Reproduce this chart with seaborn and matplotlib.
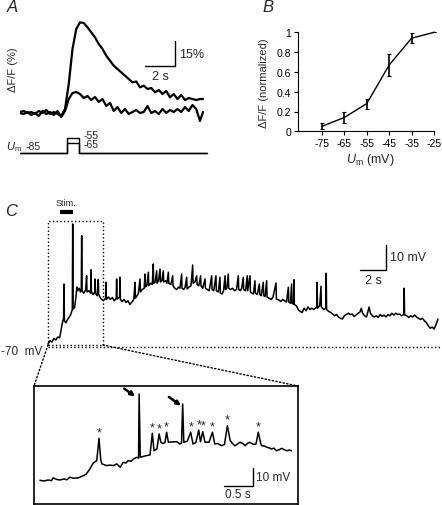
import matplotlib.pyplot as plt
import seaborn as sns
from matplotlib.patches import Rectangle, ConnectionPatch
from matplotlib.ticker import FormatStrFormatter

sns.set_style("white")
plt.rcParams['font.family'] = ['Liberation Sans', 'DejaVu Sans']
plt.rcParams['mathtext.fontset'] = 'custom'
plt.rcParams['mathtext.rm'] = 'Liberation Sans'
plt.rcParams['mathtext.it'] = 'Liberation Sans:italic'
plt.rcParams['axes.unicode_minus'] = False

# ---- panel A: fluorescence traces (%) ----
a_time = [0, 0.25, 0.5, 0.75, 1.0, 1.25, 1.5, 1.75, 2.0, 2.25, 2.5, 2.75, 3.0,
          3.25, 3.5, 3.75, 4.0, 4.25, 4.5, 4.75, 5.0, 5.25, 5.5, 5.75, 6.0,
          6.25, 6.5, 6.75, 7.0, 7.25, 7.5, 7.75, 8.0, 8.25, 8.5, 8.75, 9.0,
          9.25, 9.5, 9.75, 10.0, 10.25, 10.5, 10.75, 11.0, 11.25, 11.5, 11.75,
          12.0, 12.2]
a_high = [1.2, 1.8, 0.6, 1.2, 0.0, 1.8, 0.6, 2.4, 0.0, 1.2, 0.0, -1.2, 3.0,
          18, 39, 51, 55, 54.6, 52, 49, 46, 42, 39, 35, 32,
          29, 27, 25, 23, 21, 19, 19.5, 16, 17, 15, 15.6, 13,
          14.4, 12, 13.8, 10, 12, 9, 11.4, 8.4, 9.6, 9, 8.4,
          9, 9]
a_low = [0.6, 0.0, 1.2, -0.6, 0.6, -1.2, 1.8, 0.0, 1.2, -0.6, 1.8, -1.8, 1.8,
         9, 12.6, 13.2, 12, 9.6, 10.8, 8.4, 10.2, 7.2, 9, 4.8, 6.6,
         1.8, 4.2, 0.6, 3, 0, 1.2, 2.4, 0.6, 1.2, 4.8, 0.6, 1.8,
         0, 3, 0.6, 2.4, 1.2, 3, 1.2, 4.2, 1.8, 5.4, 3,
         -4.2, 1.2]
stim_t = [0, 3.13, 3.13, 3.93, 3.93, 12.47]
stim_55 = [-85, -85, -55, -55, -85, -85]
stim_65 = [-85, -85, -65, -65, -85, -85]

# ---- panel B: normalized dF/F vs Um ----
b_um = [-75, -65, -55, -45, -35, -25]
b_norm = [0.05, 0.14, 0.28, 0.67, 0.94, 1.0]
b_err = [0.03, 0.06, 0.05, 0.11, 0.05, 0.0]

# ---- panel C: membrane potential (mV) ----
c_t = [0.00, 0.15, 0.30, 0.45, 0.60, 0.75, 0.90, 1.00, 1.10, 1.20, 1.23, 1.26,
       1.38, 1.50, 1.62, 1.75, 1.87, 1.90, 1.93, 2.05, 2.15, 2.22, 2.30, 2.40,
       2.50, 2.56, 2.59, 2.62, 2.75, 2.90, 2.97, 3.00, 3.15, 3.28, 3.31, 3.34,
       3.48, 3.60, 3.62, 3.65, 3.78, 3.87, 3.90, 4.05, 4.25, 4.43, 4.46, 4.49,
       4.65, 4.80, 4.95, 5.10, 5.25, 5.28, 5.31, 5.51, 5.54, 5.57, 5.70, 5.85,
       6.00, 6.15, 6.30, 6.45, 6.60, 6.69, 6.72, 6.85, 6.95, 7.08, 7.11, 7.25,
       7.40, 7.46, 7.49, 7.60, 7.72, 7.75, 7.90, 8.02, 8.10, 8.13, 8.25, 8.36,
       8.39, 8.50, 8.62, 8.65, 8.76, 8.87, 8.90, 9.05, 9.15, 9.26, 9.29, 9.45,
       9.59, 9.62, 9.75, 9.90, 10.05, 10.15, 10.28, 10.31, 10.45, 10.55, 10.67,
       10.70, 10.85, 11.00, 11.13, 11.16, 11.30, 11.44, 11.47, 11.60, 11.74,
       11.77, 11.90, 12.08, 12.11, 12.25, 12.40, 12.59, 12.62, 12.75, 12.92,
       12.95, 13.10, 13.23, 13.26, 13.40, 13.50, 13.62, 13.65, 13.75, 13.87,
       13.90, 14.05, 14.20, 14.35, 14.50, 14.64, 14.67, 14.80, 14.90, 15.02,
       15.05, 15.20, 15.33, 15.36, 15.54, 15.57, 15.70, 15.80, 15.92, 15.95,
       16.10, 16.26, 16.29, 16.40, 16.56, 16.59, 16.70, 16.82, 16.85, 17.00,
       17.15, 17.30, 17.54, 17.57, 17.75, 17.90, 18.05, 18.20, 18.35, 18.49,
       18.52, 18.65, 18.74, 18.77, 18.89, 18.92, 18.95, 19.10, 19.25, 19.40,
       19.55, 19.70, 19.85, 20.00, 20.15, 20.30, 20.45, 20.67, 20.70, 20.73,
       20.90, 21.00, 21.03, 21.20, 21.37, 21.40, 21.43, 21.60, 21.75, 21.90,
       22.05, 22.20, 22.35, 22.50, 22.65, 22.80, 22.95, 23.10, 23.25, 23.40,
       23.55, 23.70, 23.85, 24.00, 24.10, 24.20, 24.35, 24.50, 24.60, 24.70,
       24.80, 24.95, 25.10, 25.25, 25.40, 25.55, 25.70, 25.85, 26.00, 26.15,
       26.30, 26.45, 26.60, 26.75, 26.90, 27.05, 27.20, 27.37, 27.40, 27.43,
       27.60, 27.75, 27.90, 28.05, 28.20, 28.35, 28.50, 28.65, 28.80, 28.95,
       29.10, 29.25, 29.40, 29.55, 29.70, 29.85, 30.00]
c_v = [-68.8, -67.5, -68.0, -66.6, -67.2, -66.0, -66.3, -63.5, -60.5, -58.5, -44.8, -59.5,
       -60.3, -59.0, -58.2, -57.0, -55.0, -20.8, -54.8, -54.2, -50.0, -46.0, -47.5, -46.5,
       -48.0, -47.0, -25.5, -47.5, -48.5, -47.0, -41.5, -48.0, -47.5, -48.5, -39.1, -48.0,
       -49.0, -48.0, -42.8, -48.5, -49.5, -43.0, -49.0, -50.5, -51.5, -50.5, -44.1, -51.0,
       -50.0, -51.0, -50.2, -51.5, -50.5, -42.8, -50.8, -50.0, -42.1, -51.0, -51.8, -51.0,
       -52.2, -51.5, -53.0, -52.0, -51.0, -44.1, -50.5, -49.5, -48.5, -42.8, -48.0, -47.0,
       -46.5, -40.8, -46.0, -45.5, -40.1, -45.5, -44.5, -45.0, -36.8, -44.5, -44.0, -39.5,
       -44.5, -43.5, -38.8, -44.0, -43.5, -39.5, -44.0, -43.5, -44.5, -40.1, -44.5, -45.0,
       -41.5, -45.5, -46.5, -47.0, -46.0, -46.5, -40.8, -46.5, -47.0, -46.0, -42.1,
       -46.8, -46.0, -45.5, -37.2, -44.5, -44.0, -41.5, -45.0, -45.5, -41.5,
       -45.5, -46.5, -42.8, -46.5, -47.0, -47.5, -41.5, -47.0, -47.5, -41.5,
       -47.5, -48.0, -42.1, -48.5, -48.8, -47.5, -41.5, -47.0, -46.5, -40.8,
       -46.5, -47.0, -46.5, -47.5, -47.0, -41.5, -47.0, -47.5, -46.5, -42.1,
       -47.0, -47.5, -41.5, -47.5, -41.5, -48.0, -48.5, -48.8, -43.5, -48.5,
       -49.0, -44.8, -49.0, -49.5, -44.1, -49.5, -49.8, -43.5, -50.0, -50.5,
       -51.0, -50.2, -44.4, -50.8, -51.2, -51.8, -51.0, -51.5, -52.0, -46.1,
       -52.0, -52.5, -44.8, -52.5, -52.8, -43.1, -53.0, -53.5, -55.0, -55.8,
       -56.2, -54.5, -55.5, -54.0, -55.0, -54.5, -55.0, -54.0, -44.1, -54.5,
       -53.5, -45.7, -54.0, -55.0, -54.5, -40.5, -55.0, -55.8, -56.2, -56.8,
       -57.5, -57.0, -58.0, -58.5, -58.8, -57.5, -57.0, -56.5, -57.0, -56.8,
       -57.8, -57.2, -56.5, -56.0, -54.5, -56.5, -57.5, -58.0, -56.0, -54.0,
       -56.5, -57.5, -58.0, -57.5, -58.2, -57.0, -57.8, -57.2, -58.0, -57.0,
       -57.5, -56.5, -57.2, -56.5, -57.0, -56.8, -57.5, -57.0, -46.5, -57.2,
       -57.5, -58.2, -57.5, -58.0, -57.2, -58.0, -58.5, -59.0, -58.5, -59.5,
       -60.2, -61.5, -62.5, -62.0, -62.8, -61.0, -58.8]

# ---- inset: first ~4.4 s expanded ----
i_t = [0.00, 0.07, 0.14, 0.20, 0.23, 0.30, 0.35, 0.42, 0.47, 0.52, 0.58, 0.67,
       0.72, 0.76, 0.81, 0.87, 0.93, 0.99, 1.03, 1.06, 1.08, 1.16, 1.22, 1.28,
       1.34, 1.40, 1.45, 1.50, 1.54, 1.59, 1.63, 1.69, 1.72, 1.73, 1.75, 1.80,
       1.86, 1.92, 1.96, 1.99, 2.04, 2.08, 2.11, 2.15, 2.18, 2.21, 2.24, 2.30,
       2.39, 2.44, 2.47, 2.49, 2.51, 2.57, 2.63, 2.67, 2.72, 2.77, 2.80, 2.84,
       2.88, 2.95, 3.01, 3.05, 3.10, 3.17, 3.22, 3.27, 3.32, 3.36, 3.40, 3.45,
       3.49, 3.54, 3.58, 3.62, 3.66, 3.72, 3.77, 3.81, 3.85, 3.87, 3.92, 3.96,
       4.00, 4.04, 4.08, 4.13, 4.18, 4.22, 4.27, 4.31, 4.35, 4.39]
i_v = [-67.8, -68.2, -67.6, -68.0, -66.4, -67.4, -67.6, -67.0, -67.5, -66.0, -66.6, -66.4,
       -65.6, -65.1, -64.1, -61.2, -57.8, -56.4, -43.5, -56.0, -58.3, -59.3, -59.0, -59.3,
       -58.3, -60.3, -57.4, -57.8, -56.4, -56.8, -55.5, -54.5, -55.0, -17.9, -54.5, -54.0,
       -53.5, -53.1, -40.6, -50.7, -49.7, -41.0, -45.8, -46.5, -46.0, -40.0, -45.8, -45.6,
       -45.5, -46.8, -46.2, -23.7, -45.8, -45.2, -40.0, -46.8, -46.0, -38.7, -45.5, -39.7,
       -45.8, -45.8, -40.0, -46.8, -46.5, -47.8, -47.0, -36.2, -44.9, -46.5, -47.8, -46.8,
       -45.8, -46.5, -47.8, -46.5, -45.8, -47.0, -46.8, -40.0, -46.2, -47.8, -48.0, -48.7,
       -49.0, -49.7, -49.2, -50.7, -50.0, -49.3, -50.2, -50.7, -50.3, -50.7]
star_t = [1.03, 1.96, 2.08, 2.21, 2.63, 2.77, 2.84, 3.01, 3.27, 3.81]
star_v = [-43.5, -40.6, -41.0, -40.0, -40.0, -38.7, -39.7, -40.0, -36.2, -40.0]

W, H = 442, 506
fig = plt.figure(figsize=(W / 100, H / 100), dpi=100)


def px_axes(x0, y0, x1, y1):
    return fig.add_axes([x0 / W, 1 - y1 / H, (x1 - x0) / W, (y1 - y0) / H])


# ===== A =====
axA = px_axes(20, 15, 210, 128)
sns.lineplot(x=a_time, y=a_high, ax=axA, color='black', lw=1.6, estimator=None, sort=False)
sns.lineplot(x=a_time, y=a_low, ax=axA, color='black', lw=1.6, estimator=None, sort=False)
axA.set_xlim(0, 12.667)
axA.set_ylim(-7.8, 60)
axA.set_axis_off()
axA.plot([8.33, 10.33, 10.33], [28.8, 28.8, 43.8], color='black', lw=1)
axA.text(10.6, 36.3, '15%', fontsize=9, ha='left', va='center')
axA.text(9.33, 26.3, '2 s', fontsize=9, ha='center', va='top')
axA.text(-0.47, 27, 'ΔF/F (%)', fontsize=8, rotation=90, ha='center', va='center', clip_on=False)

axS = px_axes(20, 130, 210, 160)
sns.lineplot(x=stim_t, y=stim_55, ax=axS, color='black', lw=1, estimator=None, sort=False)
sns.lineplot(x=stim_t, y=stim_65, ax=axS, color='black', lw=1, estimator=None, sort=False)
axS.set_xlim(0, 12.667)
axS.set_ylim(-97, -37)
axS.set_axis_off()
axS.text(-0.95, -71, r'$U_{\rm m}$', fontsize=8, ha='left', va='center', clip_on=False)
axS.text(0.4, -71, '-85', fontsize=7.5, ha='left', va='center')
axS.text(4.25, -50, '-55', fontsize=7.5, ha='left', va='center')
axS.text(4.25, -68, '-65', fontsize=7.5, ha='left', va='center')

# ===== B =====
axB = px_axes(298, 33.3, 434, 132.3)
sns.lineplot(x=b_um, y=b_norm, ax=axB, color='black', lw=1, estimator=None)
axB.errorbar(b_um, b_norm, yerr=b_err, fmt='none', ecolor='black', elinewidth=1.2,
             capsize=1.5, capthick=0.8, clip_on=False)
for ln in axB.lines:
    ln.set_clip_on(False)
axB.set_xlim(-85.7, -25)
axB.set_ylim(0, 1)
axB.set_xticks(b_um)
axB.set_yticks([0, 0.2, 0.4, 0.6, 0.8, 1.0])
axB.yaxis.set_major_formatter(FormatStrFormatter('%g'))
sns.despine(ax=axB)
for s in ['left', 'bottom']:
    axB.spines[s].set_linewidth(0.8)
    axB.spines[s].set_color('black')
axB.tick_params(direction='out', length=3, width=0.8, labelsize=7.5, pad=2,
                bottom=True, left=True, colors='black')
axB.set_ylabel('ΔF/F (normalized)', fontsize=8)
axB.yaxis.set_label_coords(-0.215, 0.5)
axB.set_xlabel(r'$U_{\rm m}$ (mV)', fontsize=9)
axB.xaxis.set_label_coords(0.53, -0.2)

# ===== C =====
axC = px_axes(0, 195, 442, 355)
sns.lineplot(x=c_t, y=c_v, ax=axC, color='black', lw=1.1, estimator=None, sort=False)
axC.set_xlim(-3.692, 30.308)
axC.set_ylim(-72.8, -8.8)
axC.set_axis_off()
axC.hlines(-70, 0, 30.3, colors='black', linestyles=':', lw=1)
axC.add_patch(Rectangle((0, -69.2), 4.23, 49.6, fill=False, ls=':', lw=1, ec='black'))
axC.plot([0.92, 1.92], [-16, -16], color='black', lw=3, solid_capstyle='butt')
axC.text(1.38, -12, 'Stim.', fontsize=6.5, ha='center', va='center')
axC.plot([24, 26, 26], [-39, -39, -29], color='black', lw=1)
axC.text(26.3, -34, '10 mV', fontsize=9, ha='left', va='center')
axC.text(25, -41, '2 s', fontsize=9, ha='center', va='top')
axC.text(-3.62, -71.6, '-70  mV', fontsize=8.5, ha='left', va='center')

# inset
axI = px_axes(34, 387, 298, 505)
sns.lineplot(x=i_t, y=i_v, ax=axI, color='black', lw=1.1, estimator=None, sort=False)
axI.set_xlim(-0.105, 4.503)
axI.set_ylim(-81.5, -13.26)
axI.set_xticks([])
axI.set_yticks([])
for s in axI.spines.values():
    s.set_visible(True)
    s.set_linewidth(1.2)
    s.set_color('black')
for t, v in zip(star_t, star_v):
    axI.text(t, v, '*', fontsize=9, ha='center', va='bottom')
for tip, tail in [((1.66, -19.2), (1.47, -14.8)), ((2.46, -24.6), (2.25, -19.6))]:
    axI.annotate('', xy=tip, xytext=tail,
                 arrowprops=dict(arrowstyle='-|>', lw=1.8, color='black',
                                 mutation_scale=6, shrinkA=0, shrinkB=0))
axI.plot([3.21, 3.71, 3.71], [-70.9, -70.9, -60.9], color='black', lw=1)
axI.text(3.77, -65.9, '10 mV', fontsize=8.5, ha='left', va='center')
axI.text(3.46, -72.2, '0.5 s', fontsize=8.5, ha='center', va='top')

for xyA, xyB in [((0, -69.2), (0, 1)), ((4.23, -69.2), (1, 1))]:
    con = ConnectionPatch(xyA=xyA, coordsA=axC.transData, xyB=xyB, coordsB=axI.transAxes,
                          ls=':', lw=1, color='black')
    fig.add_artist(con)

# panel letters
fig.text(7 / W, 1 - 8 / H, 'A', fontsize=12, style='italic', va='center', ha='left')
fig.text(262 / W, 1 - 8 / H, 'B', fontsize=12, style='italic', va='center', ha='left')
fig.text(5 / W, 1 - 212 / H, 'C', fontsize=12, style='italic', va='center', ha='left')

fig.savefig('out.png', dpi=100)
